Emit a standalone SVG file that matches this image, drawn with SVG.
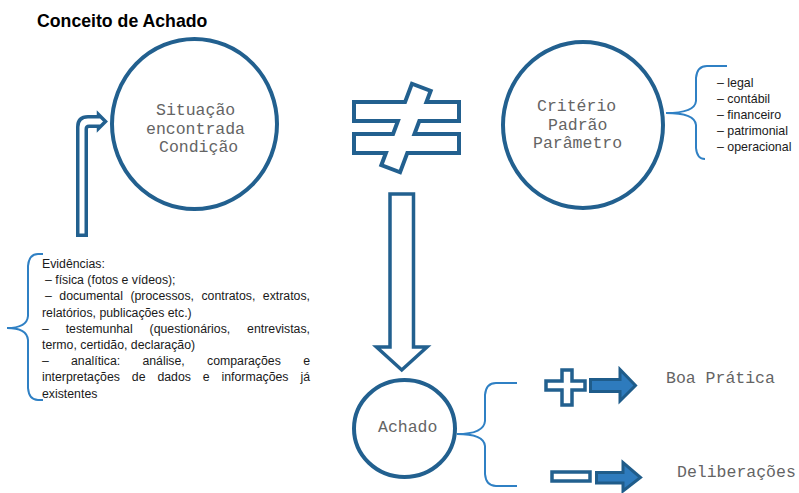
<svg xmlns="http://www.w3.org/2000/svg" width="799" height="493" viewBox="0 0 799 493">
  <style>
    .ring { fill: none; stroke: #22608f; stroke-width: 4; }
    .outline { fill: #ffffff; stroke: #22608f; stroke-width: 3.5; stroke-linejoin: miter; }
    .solid { fill: #2e7bbd; stroke: #1f5c8a; stroke-width: 3; stroke-linejoin: miter; }
    .brace { fill: none; stroke: #2f80c4; stroke-width: 2; }
    .mono { font-family: "Liberation Mono", "Courier New", monospace; font-size: 16.5px; fill: #646464; }
    .body { font-family: "Liberation Sans", Arial, sans-serif; font-size: 12.3px; fill: #1a1a1a; }
    .list { font-family: "Liberation Sans", Arial, sans-serif; font-size: 12.4px; fill: #1a1a1a; }
    .title { font-family: "Liberation Sans", Arial, sans-serif; font-size: 17.7px; font-weight: bold; fill: #000000; }
  </style>

  <text class="title" x="37" y="27">Conceito de Achado</text>

  <!-- connectors: braces and block arrows -->
  <g id="connectors">
    <!-- bent arrow from evidence up to the situation -->
    <path class="outline" d="M77.75,235.25 V127 Q77.75,116.75 88,116.75 H98.5 V114.5 L105.5,121.5 L98.5,128.5 V126.25 H89 Q86.25,126.25 86.25,129 V235.25 Z"/>
    <!-- down arrow to the finding -->
    <path class="outline" d="M390,194 H413.5 V347 H427 L401.75,370 L376.5,347 H390 Z" stroke-width="4"/>
    <!-- brace: criteria list -->
    <path class="brace" d="M727,66 H707 Q697,66 696,78 V101 Q695,113 666,113 Q695,113 696,125 V148 Q697,159 705,159"/>
    <!-- brace: evidence list -->
    <path class="brace" d="M43,254 H38 Q29,254 28,266 V316 Q27,328 7,328 Q27,328 28,340 V388 Q29,400 38,400 H43"/>
    <!-- brace: outcomes of the finding -->
    <path class="brace" d="M517,383 H496 Q486,383 485,395 V421 Q484,434 457,434 Q484,434 485,446 V474 Q486,486 496,486 H517"/>
    <!-- outcome arrows -->
    <path class="solid" d="M590.5,379.5 H620 V369.5 L635.5,385.5 L620,401 V391.5 H590.5 Z"/>
    <path class="solid" d="M596.5,472.5 H623 V462.5 L640.5,477.5 L623,491 V483 H596.5 Z"/>
  </g>

  <!-- not-equal sign: blue underlay, white fill on top gives the merged outline -->
  <g id="not-equal">
    <g fill="#22608f" stroke="#22608f" stroke-width="8" stroke-linejoin="miter">
      <rect x="356" y="104" width="101" height="15"/>
      <rect x="356" y="136" width="101" height="15"/>
      <rect x="-8" y="-41.5" width="16" height="83" transform="translate(406 128) rotate(20.6)"/>
    </g>
    <g fill="#ffffff">
      <rect x="356" y="104" width="101" height="15"/>
      <rect x="356" y="136" width="101" height="15"/>
      <rect x="-8" y="-41.5" width="16" height="83" transform="translate(406 128) rotate(20.6)"/>
    </g>
  </g>

  <g id="situacao">
    <ellipse class="ring" cx="194.5" cy="124" rx="82.5" ry="85"/>
    <text class="mono" x="156" y="115">Situação</text>
    <text class="mono" x="146" y="133.5">encontrada</text>
    <text class="mono" x="159" y="152">Condição</text>
  </g>

  <g id="criterio">
    <ellipse class="ring" cx="583" cy="125" rx="80" ry="83"/>
    <text class="mono" x="537" y="111">Critério</text>
    <text class="mono" x="548" y="129.5">Padrão</text>
    <text class="mono" x="533" y="148">Parâmetro</text>
  </g>

  <g id="criterio-tipos">
    <text class="list" x="717" y="87">– legal</text>
    <text class="list" x="717" y="103">– contábil</text>
    <text class="list" x="717" y="119">– financeiro</text>
    <text class="list" x="717" y="135">– patrimonial</text>
    <text class="list" x="717" y="151">– operacional</text>
  </g>

  <g id="evidencias">
    <text class="body" x="42" y="268">Evidências:</text>
    <text class="body" x="45" y="284.2">– física (fotos e vídeos);</text>
    <text class="body" y="300.4"><tspan x="45">–</tspan><tspan x="59.3">documental</tspan><tspan x="130.4">(processos,</tspan><tspan x="201.4">contratos,</tspan></text>
    <text class="body" x="310" y="300.4" text-anchor="end">extratos,</text>
    <text class="body" x="42" y="316.6">relatórios, publicações etc.)</text>
    <text class="body" y="332.8"><tspan x="42">–</tspan><tspan x="65.7">testemunhal</tspan><tspan x="149.6">(questionários,</tspan></text>
    <text class="body" x="310" y="332.8" text-anchor="end">entrevistas,</text>
    <text class="body" x="42" y="349">termo, certidão, declaração)</text>
    <text class="body" y="365.2"><tspan x="42">–</tspan><tspan x="71">analítica:</tspan><tspan x="142.4">análise,</tspan><tspan x="207">comparações</tspan></text>
    <text class="body" x="310" y="365.2" text-anchor="end">e</text>
    <text class="body" y="381.4"><tspan x="42">interpretações</tspan><tspan x="131.8">de</tspan><tspan x="157.4">dados</tspan><tspan x="202.8">e</tspan><tspan x="221.5">informações</tspan></text>
    <text class="body" x="310" y="381.4" text-anchor="end">já</text>
    <text class="body" x="42" y="397.6">existentes</text>
  </g>

  <g id="achado">
    <ellipse class="ring" cx="404.5" cy="428.5" rx="50.5" ry="48.5"/>
    <text class="mono" x="378" y="432">Achado</text>
  </g>

  <g id="boa-pratica">
    <path class="outline" d="M562,370 H572 V381 H585 V390 H572 V405 H562 V390 H546 V381 H562 Z"/>
    <text class="mono" x="666" y="383">Boa Prática</text>
  </g>

  <g id="deliberacoes">
    <rect class="outline" x="552" y="472" width="38" height="9"/>
    <text class="mono" x="677" y="477">Deliberações</text>
  </g>
</svg>
